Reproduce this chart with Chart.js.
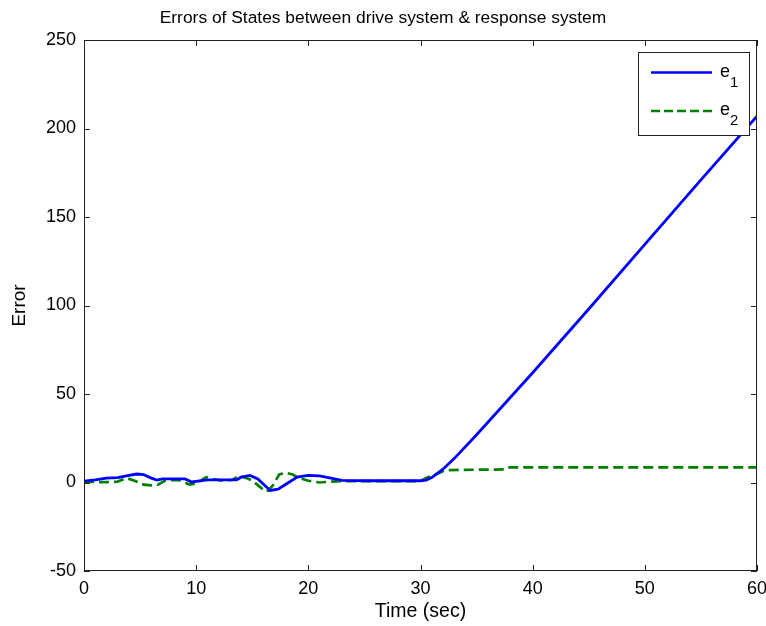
<!DOCTYPE html>
<html>
<head>
<meta charset="utf-8">
<title>Errors of States</title>
<script src="https://cdn.jsdelivr.net/npm/chart.js@4.4.0/dist/chart.umd.min.js"></script>
<style>
  html, body { margin: 0; padding: 0; background: #fff; }
  #wrap { width: 766px; height: 626px; }
</style>
</head>
<body>
<div id="wrap"><canvas id="errChart" width="766" height="626"></canvas></div>
<script>
// data
const chartTitle = "Errors of States between drive system & response system";
const xTicks = [0, 10, 20, 30, 40, 50, 60];
const yTicks = [-50, 0, 50, 100, 150, 200, 250];

// e1 (blue, solid)
const e1Time = [0, 1, 2, 3, 4, 4.7, 5.3, 6, 6.5, 7, 8, 9, 9.6, 10.5, 11, 12, 13, 13.6, 14, 14.8, 15.5, 16, 16.6, 17.3, 18, 19, 20, 21, 22, 23, 25, 28, 30, 30.5, 31, 32, 33, 35, 40, 45, 50, 55, 60];
const e1Vals = [0.8, 1.5, 2.5, 2.8, 4, 4.8, 4.5, 2.5, 1.4, 2, 2, 2, 0.3, 1, 1.5, 1.5, 1.5, 1.5, 3, 4, 2, -1, -4.5, -3.8, -1, 3, 4, 3.7, 2.5, 1.2, 1, 1, 1, 1.4, 2.8, 7.5, 13.5, 27, 62, 98, 134.5, 171, 207];

// e2 (green, dashed)
const e2Time = [0, 1, 2, 3, 3.8, 4.5, 5.3, 6, 6.6, 7.2, 8, 8.6, 9.4, 10, 10.9, 11.5, 12.3, 13.2, 13.8, 14.5, 15, 15.5, 16, 16.3, 16.8, 17.4, 18, 18.6, 19.2, 20, 21, 22, 23, 25, 30, 30.5, 31.5, 32.2, 37.5, 37.8, 60];
const e2Vals = [0.5, 0.3, 0.2, 0.5, 2.5, 1, -1.2, -1.6, -1.2, 1, 1.4, 1.2, -1.2, -0.5, 3, 2, 1, 1.5, 3.7, 2.5, 1, -1.5, -4.2, -5.2, -2, 4.5, 5.5, 4.5, 2.5, 1, 0, 0.5, 0.8, 0.8, 0.8, 2.5, 5, 7, 7.4, 8.5, 8.5];

const FONT = "'Liberation Sans', Arial, sans-serif";

const toPoints = (ts, vs) => ts.map((t, i) => ({ x: t, y: vs[i] }));

// ✅ MATLAB-style box, inward ticks, title and legend
const matlabFrame = {
    id: "matlabFrame",
    afterDatasetsDraw(chart) {
        const { ctx, chartArea: a, scales } = chart;
        ctx.save();
        ctx.strokeStyle = "#222";
        ctx.lineWidth = 1;
        ctx.strokeRect(a.left + 0.5, a.top + 0.5, a.right - a.left - 1, a.bottom - a.top - 1);

        const tl = 6;
        ctx.beginPath();
        xTicks.forEach(v => {
            const x = Math.round(scales.x.getPixelForValue(v)) + 0.5;
            ctx.moveTo(x, a.bottom); ctx.lineTo(x, a.bottom - tl);
            ctx.moveTo(x, a.top); ctx.lineTo(x, a.top + tl);
        });
        yTicks.forEach(v => {
            const y = Math.round(scales.y.getPixelForValue(v)) + 0.5;
            ctx.moveTo(a.left, y); ctx.lineTo(a.left + tl, y);
            ctx.moveTo(a.right, y); ctx.lineTo(a.right - tl, y);
        });
        ctx.stroke();

        // title, centred on the page like the original figure
        ctx.fillStyle = "#000";
        ctx.font = "17.4px " + FONT;
        ctx.textAlign = "center";
        ctx.textBaseline = "middle";
        ctx.fillText(chartTitle, chart.width / 2, 18);

        // legend box
        const lx = 638, ly = 52, lw = 111, lh = 83;
        ctx.fillStyle = "#fff";
        ctx.fillRect(lx, ly, lw, lh);
        ctx.strokeStyle = "#222";
        ctx.lineWidth = 1;
        ctx.strokeRect(lx + 0.5, ly + 0.5, lw, lh);

        const items = [
            { color: "#0000ff", dash: [], y: 72.5, sub: "1" },
            { color: "#008000", dash: [9, 4], y: 111, sub: "2" }
        ];
        items.forEach(it => {
            ctx.beginPath();
            ctx.setLineDash(it.dash);
            ctx.strokeStyle = it.color;
            ctx.lineWidth = 2.7;
            ctx.moveTo(651, it.y);
            ctx.lineTo(712, it.y);
            ctx.stroke();
            ctx.setLineDash([]);
            ctx.fillStyle = "#000";
            ctx.textAlign = "left";
            ctx.textBaseline = "alphabetic";
            ctx.font = "18px " + FONT;
            ctx.fillText("e", 720, it.y + 4);
            ctx.font = "15px " + FONT;
            ctx.fillText(it.sub, 730, it.y + 14);
        });
        ctx.restore();
    }
};

const ctx = document.getElementById("errChart").getContext("2d");

new Chart(ctx, {
    type: "line",
    data: {
        datasets: [
            {
                label: "e1",
                data: toPoints(e1Time, e1Vals),
                borderColor: "#0000ff",
                borderWidth: 2.8,
                pointRadius: 0,
                tension: 0
            },
            {
                label: "e2",
                data: toPoints(e2Time, e2Vals),
                borderColor: "#008000",
                borderWidth: 2.7,
                borderDash: [10, 5],
                pointRadius: 0,
                tension: 0
            }
        ]
    },
    options: {
        responsive: false,
        animation: false,
        devicePixelRatio: 1,
        layout: { padding: { top: 40, right: 9, bottom: 0, left: 0 } },
        plugins: { legend: { display: false }, title: { display: false }, tooltip: { enabled: false } },
        scales: {
            x: {
                type: "linear",
                min: 0,
                max: 60,
                grid: { display: false, drawTicks: false },
                border: { display: false },
                afterBuildTicks: s => { s.ticks = xTicks.map(v => ({ value: v })); },
                afterFit: s => { s.height = 55; s.paddingLeft = 0; s.paddingRight = 0; },
                ticks: { autoSkip: false, maxRotation: 0, padding: 7, color: "#000", font: { family: FONT, size: 18 } },
                title: { display: true, text: "Time (sec)", color: "#000", font: { family: FONT, size: 19.5 }, padding: { top: 0, bottom: 3 } }
            },
            y: {
                min: -50,
                max: 250,
                grid: { display: false, drawTicks: false },
                border: { display: false },
                afterBuildTicks: s => { s.ticks = yTicks.map(v => ({ value: v })); },
                afterFit: s => { s.width = 84; },
                ticks: { autoSkip: false, padding: 8, color: "#000", font: { family: FONT, size: 18 } },
                title: { display: true, text: "Error", color: "#000", font: { family: FONT, size: 19 }, padding: { top: 8, bottom: 0 } }
            }
        }
    },
    plugins: [matlabFrame]
});
</script>
</body>
</html>
